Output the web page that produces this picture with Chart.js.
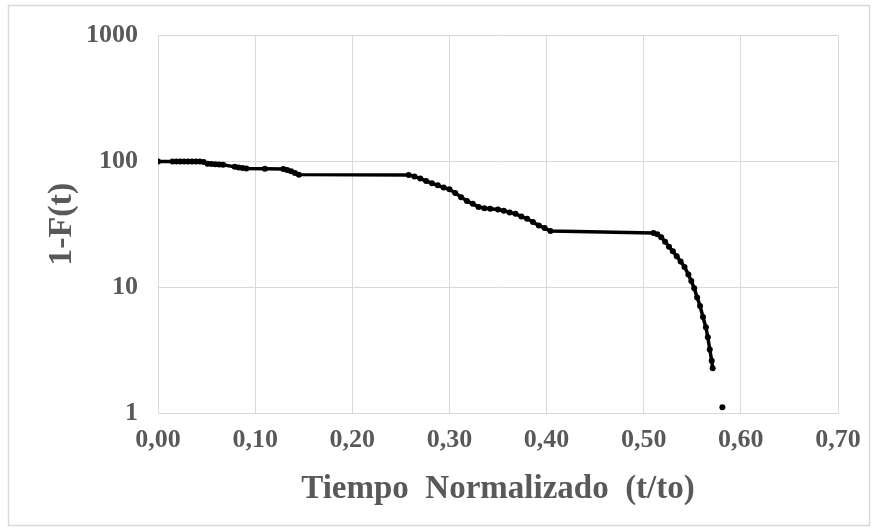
<!DOCTYPE html>
<html>
<head>
<meta charset="utf-8">
<script src="https://cdn.jsdelivr.net/npm/chart.js@4.4.1/dist/chart.umd.min.js"></script>
<style>
  html, body { margin: 0; padding: 0; background: #fff; }
  #wrap { position: relative; width: 877px; height: 531px; }
</style>
</head>
<body>
<div id="wrap"><canvas id="survChart" width="877" height="531"></canvas></div>
<script>
// Tiempo normalizado (t/to) y 1-F(t) de la curva principal
const tiempo = [0.000, 0.015, 0.019, 0.023, 0.027, 0.031, 0.035, 0.039, 0.043, 0.047,
  0.051, 0.055, 0.059, 0.063, 0.067, 0.079, 0.083, 0.087, 0.091, 0.110,
  0.129, 0.133, 0.137, 0.141, 0.145, 0.258, 0.264, 0.270, 0.276, 0.282,
  0.288, 0.294, 0.300, 0.306, 0.312, 0.318, 0.324, 0.330, 0.336, 0.342,
  0.350, 0.356, 0.362, 0.368, 0.374, 0.380, 0.386, 0.392, 0.398, 0.404,
  0.510, 0.514, 0.518, 0.522, 0.526, 0.530, 0.534, 0.538, 0.542, 0.546,
  0.549, 0.552, 0.555, 0.558, 0.561, 0.564, 0.566, 0.568, 0.570, 0.571];
const supervivencia = [100, 100, 100, 100, 100, 100, 100, 100, 100, 99,
  96, 95.5, 95, 94.5, 94, 90.5, 89.5, 88.5, 88, 87.5,
  87, 85.5, 83.5, 81, 78.5, 78, 76, 73, 70, 67,
  64.5, 62, 60, 56, 52, 48.5, 46, 43.5, 42.5, 42,
  41.5, 40.5, 39.3, 38.3, 36.5, 35, 33, 31, 29.5, 28,
  27, 26.3, 25, 23, 21, 19.3, 17.6, 16, 14.5, 12.6,
  11.2, 9.8, 8.3, 7.1, 5.8, 4.8, 4.0, 3.2, 2.6, 2.27];

// Punto final aislado
const tiempoFinal = [0.581];
const supervivenciaFinal = [1.11];

// Marcas de los ejes
const xTicks = [0, 0.1, 0.2, 0.3, 0.4, 0.5, 0.6, 0.7];
const yTicks = [1, 10, 100, 1000];

const serif = '"Liberation Serif", "Times New Roman", serif';
const textColor = '#595959';
const gridColor = '#d9d9d9';

// Marco exterior del gráfico
const marco = {
  id: 'marco',
  beforeDraw(chart) {
    const ctx = chart.ctx;
    ctx.save();
    ctx.fillStyle = '#fff';
    ctx.fillRect(0, 0, chart.width, chart.height);
    ctx.strokeStyle = gridColor;
    ctx.lineWidth = 1.5;
    ctx.strokeRect(8.5, 5.5, 861, 520);
    ctx.restore();
  }
};

const ctx = document.getElementById('survChart').getContext('2d');
new Chart(ctx, {
  type: 'scatter',
  data: {
    datasets: [{
      data: tiempo.map((t, i) => ({ x: t, y: supervivencia[i] })),
      showLine: true,
      borderColor: '#000',
      borderWidth: 3.5,
      backgroundColor: '#000',
      pointRadius: 3,
      pointBorderWidth: 0,
      tension: 0
    }, {
      data: tiempoFinal.map((t, i) => ({ x: t, y: supervivenciaFinal[i] })),
      showLine: false,
      backgroundColor: '#000',
      pointRadius: 3,
      pointBorderWidth: 0
    }]
  },
  options: {
    responsive: false,
    animation: false,
    layout: { padding: { top: 33, right: 39, bottom: 22, left: 0 } },
    plugins: {
      legend: { display: false },
      tooltip: { enabled: false }
    },
    scales: {
      x: {
        type: 'linear',
        min: 0,
        max: 0.7,
        afterBuildTicks: axis => { axis.ticks = xTicks.map(v => ({ value: v })); },
        afterFit: axis => { axis.height = 96; },
        grid: { color: gridColor, drawTicks: false, lineWidth: 1 },
        border: { color: gridColor, width: 1 },
        ticks: {
          padding: 12,
          color: textColor,
          font: { family: serif, size: 26, weight: 'bold' },
          maxRotation: 0,
          callback: v => v.toFixed(2).replace('.', ',')
        },
        title: {
          display: true,
          text: 'Tiempo  Normalizado  (t/to)',
          color: textColor,
          font: { family: serif, size: 33, weight: 'bold' },
          padding: { top: 0, bottom: 0 }
        }
      },
      y: {
        type: 'logarithmic',
        min: 1,
        max: 1000,
        afterBuildTicks: axis => { axis.ticks = yTicks.map(v => ({ value: v })); },
        afterFit: axis => { axis.width = 158; },
        grid: { color: gridColor, drawTicks: false, lineWidth: 1 },
        border: { color: gridColor, width: 1 },
        ticks: {
          padding: 20,
          color: textColor,
          font: { family: serif, size: 26, weight: 'bold' },
          callback: v => String(v)
        },
        title: {
          display: true,
          text: '1-F(t)',
          color: textColor,
          font: { family: serif, size: 34, weight: 'bold' },
          padding: { top: 42, bottom: 0 }
        }
      }
    }
  },
  plugins: [marco]
});
</script>
</body>
</html>
